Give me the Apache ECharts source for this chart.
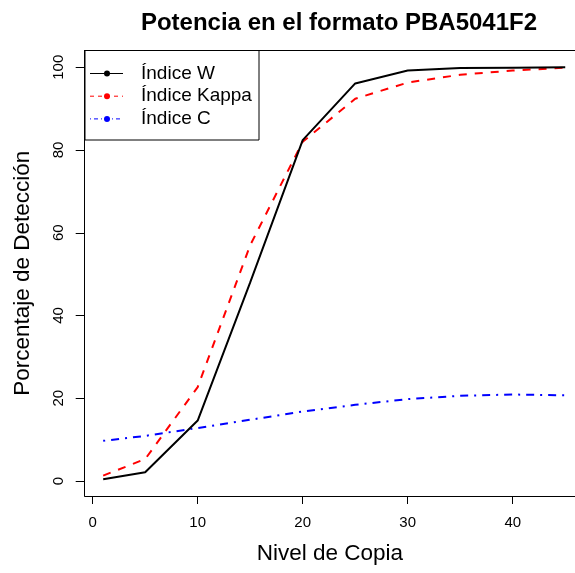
<!DOCTYPE html>
<html>
<head>
<meta charset="utf-8">
<script src="https://cdn.jsdelivr.net/npm/echarts@6/dist/echarts.min.js"></script>
<style>html,body{margin:0;padding:0;background:#fff}#c{width:575px;height:573px}</style>
</head>
<body>
<div id="c"></div>
<script>
var copyLevels = [1, 5, 10, 15, 20, 25, 30, 35, 40, 45];
var indiceW = [0.4, 2.1, 14.6, 48, 82.4, 96.1, 99.2, 99.8, 99.9, 100];
var indiceKappa = [1.3, 5.3, 22.7, 57, 82, 92.4, 96.3, 98.2, 99.2, 99.9];
var indiceC = [9.7, 10.9, 12.8, 14.8, 16.8, 18.4, 19.8, 20.6, 20.9, 20.7];
var seriesNames = ['Índice W', 'Índice Kappa', 'Índice C'];
var xTicks = [0, 10, 20, 30, 40];
var yTicks = [0, 20, 40, 60, 80, 100];

var FONT = 'Liberation Sans';
var colors = ['#000000', '#ff0000', '#0000ff'];
var dashes = [null, [8, 8], [2, 6, 8, 6]];
var legendDashes = [null, [4, 4], [1, 3, 4, 3]];
var values = [indiceW, indiceKappa, indiceC];
var X_MIN = -0.76, X_MAX = 45.93;

function pairs(v) { return copyLevels.map(function (x, i) { return [x, v[i]]; }); }

var series = values.map(function (v, i) {
  return {
    name: seriesNames[i], type: 'line', data: pairs(v), symbol: 'none',
    lineStyle: { color: colors[i], width: 2, type: dashes[i] || 'solid' },
    z: 3 - i, animation: false
  };
});

var legendEls = [{
  type: 'rect', shape: { x: 85, y: 50.5, width: 174, height: 89.5 },
  style: { fill: '#fff', stroke: '#000', lineWidth: 1 }, z: 100
}];
seriesNames.forEach(function (n, i) {
  var cy = 73.5 + i * 22.7;
  legendEls.push({ type: 'line', shape: { x1: 90, y1: cy, x2: 123, y2: cy },
    style: { stroke: colors[i], lineWidth: 1, lineDash: legendDashes[i] }, z: 101 });
  legendEls.push({ type: 'circle', shape: { cx: 107, cy: cy, r: 3 },
    style: { fill: colors[i] }, z: 102 });
  legendEls.push({ type: 'text', x: 141, y: cy,
    style: { text: n, font: '19px "' + FONT + '"', fill: '#000', textVerticalAlign: 'middle', verticalAlign: 'middle' }, z: 102 });
});

var chart = echarts.init(document.getElementById('c'), null, { renderer: 'canvas' });
chart.setOption({
  animation: false,
  backgroundColor: '#fff',
  title: {
    text: 'Potencia en el formato PBA5041F2', left: 334, top: 6, textAlign: 'center',
    textStyle: { fontFamily: FONT, fontWeight: 'bold', fontSize: 24, color: '#000' }
  },
  grid: { left: 84.7, right: 0, top: 50.4, bottom: 77, show: false },
  xAxis: [{
    type: 'value', min: X_MIN, max: X_MAX, position: 'bottom',
    name: 'Nivel de Copia', nameLocation: 'middle', nameGap: 46,
    nameTextStyle: { fontFamily: FONT, fontSize: 22.5, color: '#000' },
    axisLine: { show: true, onZero: false, lineStyle: { color: '#000', width: 1 } },
    axisTick: { show: true, inside: false, length: 8, customValues: xTicks, lineStyle: { color: '#000', width: 1 } },
    axisLabel: { customValues: xTicks, margin: 19, fontFamily: FONT, fontSize: 15, color: '#000' },
    splitLine: { show: false }
  }, {
    type: 'value', min: X_MIN, max: X_MAX, position: 'top',
    axisLine: { show: true, onZero: false, lineStyle: { color: '#000', width: 1 } },
    axisTick: { show: false }, axisLabel: { show: false }, splitLine: { show: false }
  }],
  yAxis: {
    type: 'value', min: -3.63, max: 104.08,
    name: 'Porcentaje de Detección', nameLocation: 'middle', nameGap: 50,
    nameTextStyle: { fontFamily: FONT, fontSize: 22.5, color: '#000' },
    axisLine: { show: true, onZero: false, lineStyle: { color: '#000', width: 1 } },
    axisTick: { show: true, inside: false, length: 9, customValues: yTicks, lineStyle: { color: '#000', width: 1 } },
    axisLabel: { customValues: yTicks, rotate: 90, margin: 18, fontFamily: FONT, fontSize: 15, color: '#000' },
    splitLine: { show: false }
  },
  series: series,
  graphic: legendEls
});
</script>
</body>
</html>
